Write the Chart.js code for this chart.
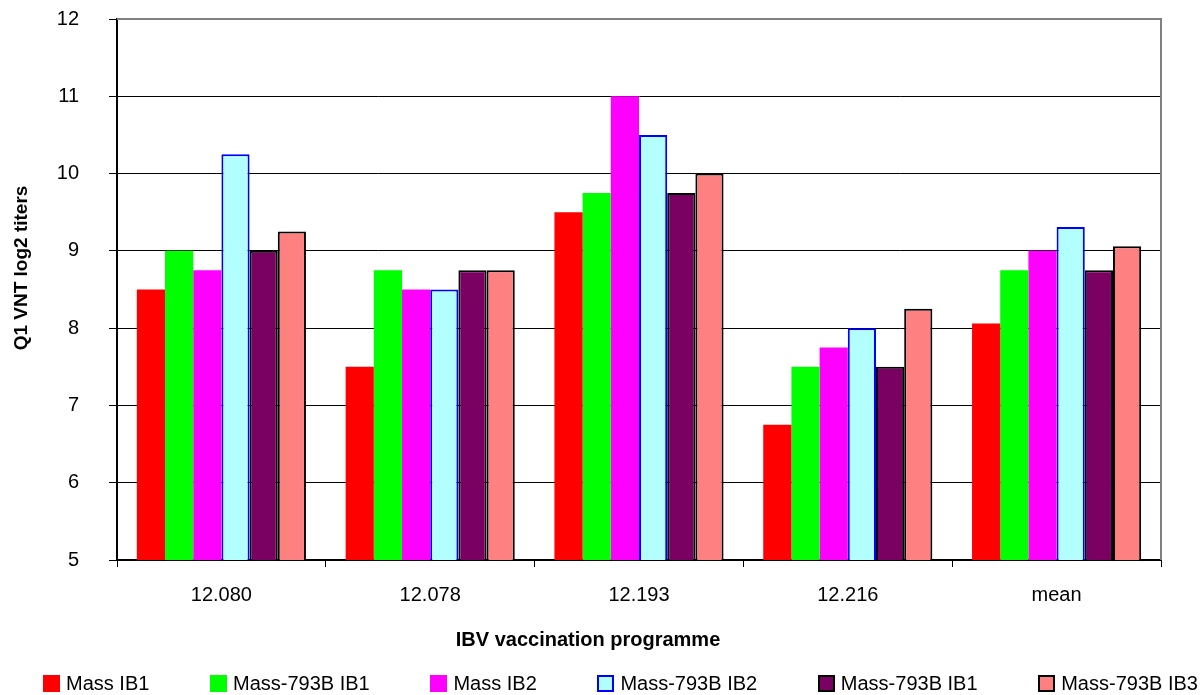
<!DOCTYPE html>
<html lang="en">
<head>
    <meta charset="UTF-8">
    <title>IBV vaccination programme - Q1 VNT log2 titers</title>
    <style>
        body {
            margin: 0;
            background: #fff;
            font-family: "Liberation Sans", Arial, sans-serif;
        }
        #wrap {
            position: relative;
            width: 1201px;
            height: 695px;
        }
        #chartLegend {
            position: absolute;
            left: 43px;
            right: 3px;
            top: 672px;
            display: flex;
            justify-content: space-between;
            align-items: center;
            font-size: 20px;
            color: #000;
        }
        .item {
            display: flex;
            align-items: center;
            gap: 6px;
            white-space: nowrap;
        }
        .swatch {
            width: 17px;
            height: 17px;
            box-sizing: border-box;
            display: inline-block;
        }
    </style>
    <script src="https://cdn.jsdelivr.net/npm/chart.js@4.4.0/dist/chart.umd.min.js"></script>
</head>
<body>
    <div id="wrap">
        <canvas id="titerChart" width="1201" height="695"></canvas>
        <div id="chartLegend"></div>
    </div>

    <script>
        // data
        const categories = ['12.080', '12.078', '12.193', '12.216', 'mean'];
        const massIB1 = [8.5, 7.5, 9.5, 6.75, 8.06];
        const mass793bIB1 = [9.0, 8.75, 9.75, 7.5, 8.75];
        const massIB2 = [8.75, 8.5, 11.0, 7.75, 9.0];
        const mass793bIB2 = [10.25, 8.5, 10.5, 8.0, 9.31];
        const mass793bIB1b = [9.0, 8.75, 9.75, 7.5, 8.75];
        const mass793bIB3 = [9.25, 8.75, 10.0, 8.25, 9.06];

        const yMin = 5;
        const yMax = 12;

        const FONT = '"Liberation Sans", Arial, sans-serif';

        const series = [
            { label: 'Mass IB1', data: massIB1, fill: '#FF0000', border: '#FF0000', bw: 0 },
            { label: 'Mass-793B IB1', data: mass793bIB1, fill: '#00FF00', border: '#00FF00', bw: 0 },
            { label: 'Mass IB2', data: massIB2, fill: '#FF00FF', border: '#FF00FF', bw: 0 },
            { label: 'Mass-793B IB2', data: mass793bIB2, fill: '#B3FFFF', border: '#0000FF', bw: 2 },
            { label: 'Mass-793B IB1', data: mass793bIB1b, fill: '#7A0062', border: '#000000', bw: 2 },
            { label: 'Mass-793B IB3', data: mass793bIB3, fill: '#FF8080', border: '#000000', bw: 2 }
        ];

        // plot frame (grey top/right) and axis titles
        const framePlugin = {
            id: 'frame',
            afterDatasetsDraw(chart) {
                const { ctx, chartArea: a } = chart;
                ctx.save();
                ctx.strokeStyle = '#808080';
                ctx.lineWidth = 2;
                ctx.beginPath();
                ctx.moveTo(a.left, a.top);
                ctx.lineTo(a.right, a.top);
                ctx.lineTo(a.right, a.bottom);
                ctx.stroke();
                ctx.restore();
            },
            afterDraw(chart) {
                const { ctx } = chart;
                ctx.save();
                ctx.fillStyle = '#000';
                ctx.textAlign = 'center';
                ctx.textBaseline = 'middle';
                ctx.font = 'bold 20px ' + FONT;
                ctx.fillText('IBV vaccination programme', 588, 640);
                ctx.translate(22, 268);
                ctx.rotate(-Math.PI / 2);
                ctx.font = 'bold 19px ' + FONT;
                ctx.fillText('Q1 VNT log2 titers', 0, 0);
                ctx.restore();
            }
        };

        const ctx = document.getElementById('titerChart').getContext('2d');
        new Chart(ctx, {
            type: 'bar',
            data: {
                labels: categories,
                datasets: series.map(s => ({
                    label: s.label,
                    data: s.data,
                    backgroundColor: s.fill,
                    borderColor: s.border,
                    borderWidth: s.bw,
                    borderSkipped: false,
                    barPercentage: 1.0,
                    categoryPercentage: 0.81
                }))
            },
            options: {
                responsive: false,
                animation: false,
                layout: {
                    padding: { top: 19, right: 40, left: 0, bottom: 0 }
                },
                scales: {
                    x: {
                        afterFit(scale) {
                            scale.height = 135;
                            scale.paddingLeft = 0;
                            scale.paddingRight = 0;
                        },
                        grid: {
                            offset: true,
                            drawOnChartArea: false,
                            drawTicks: true,
                            tickLength: 7,
                            tickColor: '#000'
                        },
                        border: { color: '#000', width: 2 },
                        ticks: {
                            color: '#000',
                            padding: 16,
                            font: { family: FONT, size: 20 }
                        }
                    },
                    y: {
                        min: yMin,
                        max: yMax,
                        afterFit(scale) {
                            scale.width = 117;
                            scale.paddingTop = 0;
                            scale.paddingBottom = 0;
                        },
                        grid: {
                            color: ctx => ctx.tick && ctx.tick.value === yMax ? 'rgba(0,0,0,0)' : '#000',
                            lineWidth: 1,
                            tickLength: 8,
                            tickColor: '#000'
                        },
                        border: { color: '#000', width: 2 },
                        ticks: {
                            stepSize: 1,
                            color: '#000',
                            padding: 30,
                            font: { family: FONT, size: 20 }
                        }
                    }
                },
                plugins: {
                    legend: { display: false },
                    title: { display: false },
                    tooltip: { enabled: false }
                }
            },
            plugins: [framePlugin]
        });

        // legend along the bottom
        const legendContainer = document.getElementById('chartLegend');
        legendContainer.innerHTML = series.map(s => `
            <span class="item">
                <span class="swatch" style="background-color: ${s.fill}; border: ${s.bw ? '2px solid ' + s.border : 'none'};"></span>
                <span>${s.label}</span>
            </span>
        `).join('');
    </script>
</body>
</html>
